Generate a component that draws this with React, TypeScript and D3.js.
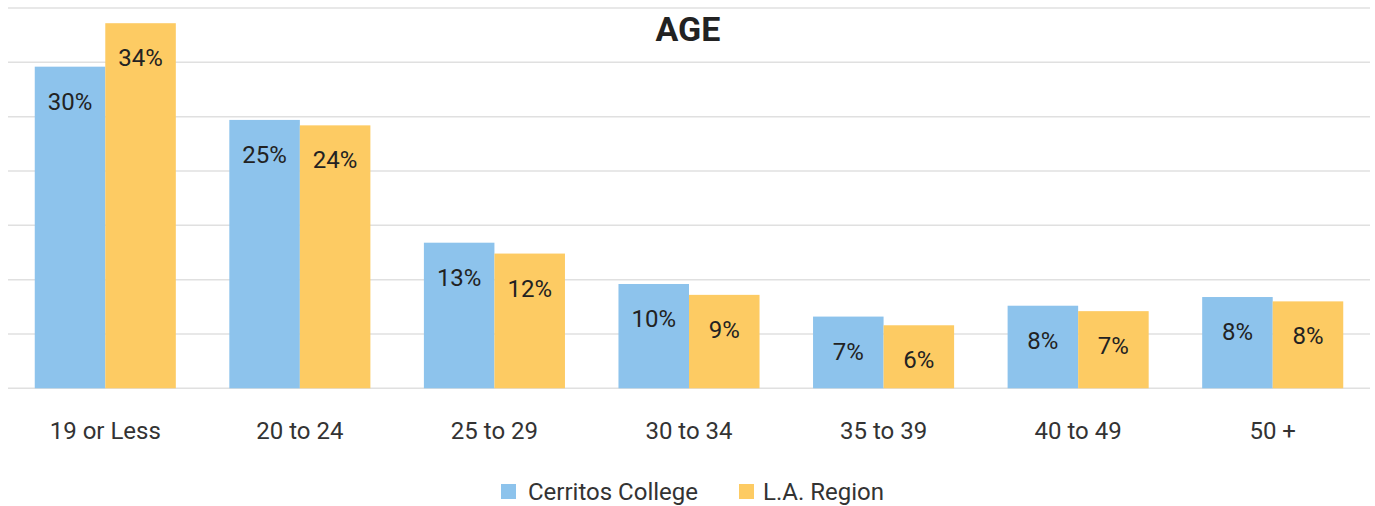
import React from "react";
import * as d3 from "d3";

const categories = ["19 or Less", "20 to 24", "25 to 29", "30 to 34", "35 to 39", "40 to 49", "50 +"];
const seriesNames = ["Cerritos College", "L.A. Region"];
const cerritos = [29.6, 24.7, 13.4, 9.6, 6.6, 7.6, 8.4];
const laRegion = [33.6, 24.2, 12.4, 8.6, 5.8, 7.1, 8.0];
const yTicks = [0, 5, 10, 15, 20, 25, 30, 35];

const W = 1375;
const H = 506;
const colors = ["#8DC3EC", "#FDCB63"];
const FONT = "Roboto, 'Noto Sans', sans-serif";

export default function App() {
  const x = d3.scaleBand<string>().domain(categories).range([8, 1370]).paddingInner(0.275).paddingOuter(0.1375);
  const xs = d3.scaleBand<string>().domain(seriesNames).range([0, x.bandwidth()]);
  const y = d3.scaleLinear().domain([0, 35]).range([388.3, 8]);
  const series = [cerritos, laRegion];

  return (
    <svg width={W} height={H} style={{ position: "absolute", left: 0, top: 0, background: "#fff" }} fontFamily={FONT}>
      {yTicks.map((t) => (
        <line key={t} x1={8} x2={1370} y1={y(t)} y2={y(t)} stroke="#e0e0e0" strokeWidth={1.5} />
      ))}
      {series.map((vals, si) =>
        vals.map((v, i) => {
          const bx = (x(categories[i]) as number) + (xs(seriesNames[si]) as number);
          const bw = xs.bandwidth();
          return (
            <g key={si + "-" + i}>
              <rect x={bx} y={y(v)} width={bw} height={y(0) - y(v)} fill={colors[si]} />
              <text x={bx + bw / 2} y={y(v) + 43} textAnchor="middle" fontSize={24} fill="#222">
                {Math.round(v) + "%"}
              </text>
            </g>
          );
        })
      )}
      {categories.map((c) => (
        <text key={c} x={(x(c) as number) + x.bandwidth() / 2} y={439} textAnchor="middle" fontSize={24} fill="#333">
          {c}
        </text>
      ))}
      <text x={688} y={41} textAnchor="middle" fontSize={34} fontWeight={700} fill="#222">AGE</text>
      <g>
        <rect x={501} y={484} width={15} height={15} fill={colors[0]} />
        <text x={528} y={500} fontSize={24} fill="#333">{seriesNames[0]}</text>
        <rect x={739} y={484} width={15} height={15} fill={colors[1]} />
        <text x={763} y={500} fontSize={24} fill="#333">{seriesNames[1]}</text>
      </g>
    </svg>
  );
}
